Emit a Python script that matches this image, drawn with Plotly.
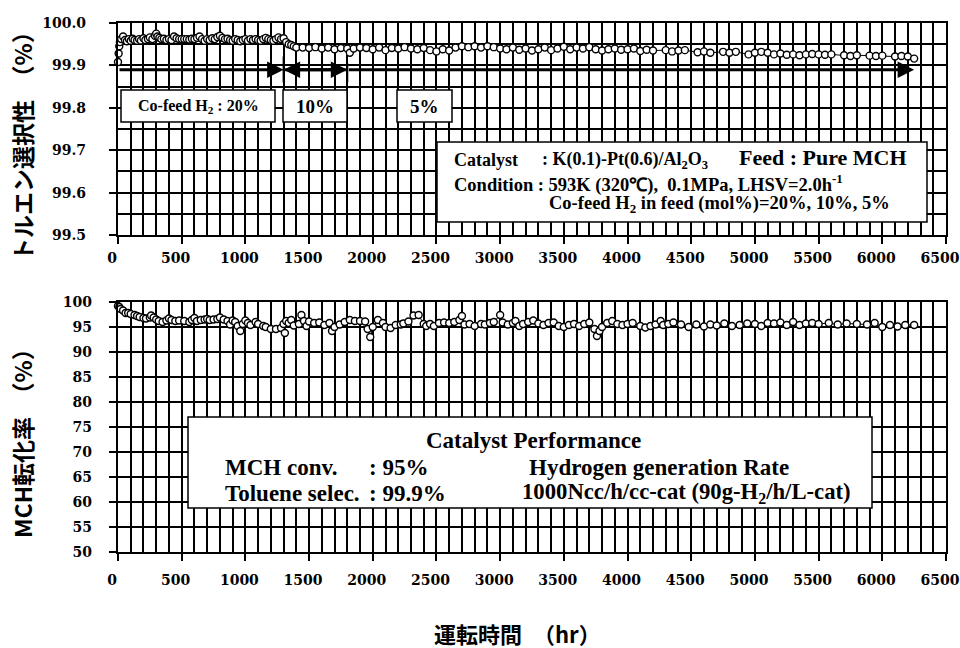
import plotly.graph_objects as go

# ---------------- data ----------------
top_hours = [0, 5, 10, 15, 25, 40, 55, 70, 85, 100, 115, 130, 150, 165, 180, 200, 215, 235, 250, 270,
             290, 300, 310, 325, 340, 360, 380, 400, 420, 440, 460, 480, 500, 520, 540, 560, 580, 600,
             620, 640, 660, 680, 700, 720, 740, 760, 780, 800, 820, 840, 860, 880, 900, 920, 940, 960,
             980, 1000, 1020, 1040, 1060, 1080, 1100, 1120, 1140, 1160, 1180, 1200, 1220, 1240, 1260,
             1280, 1300, 1320, 1340, 1360, 1380, 1400, 1450, 1500, 1550, 1600, 1650, 1700, 1750, 1800,
             1820, 1850, 1900, 1950, 2000, 2050, 2100, 2150, 2200, 2250, 2300, 2350, 2400, 2450, 2500,
             2550, 2600, 2650, 2700, 2750, 2800, 2850, 2900, 2950, 3000, 3050, 3100, 3150, 3200, 3250,
             3300, 3350, 3400, 3450, 3500, 3550, 3600, 3650, 3700, 3750, 3800, 3850, 3900, 3950, 4000,
             4050, 4100, 4150, 4200, 4300, 4350, 4400, 4450, 4550, 4600, 4650, 4750, 4800, 4850, 4950,
             5000, 5050, 5100, 5150, 5200, 5250, 5300, 5350, 5400, 5450, 5500, 5550, 5600, 5700, 5750,
             5800, 5900, 5950, 6000, 6100, 6150, 6200, 6250]
top_selectivity = [99.908, 99.928, 99.945, 99.955, 99.962, 99.968, 99.960, 99.957, 99.962, 99.958,
                   99.963, 99.960, 99.958, 99.962, 99.959, 99.964, 99.960, 99.962, 99.966, 99.962,
                   99.970, 99.975, 99.968, 99.965, 99.962, 99.963, 99.960, 99.962, 99.960, 99.968,
                   99.964, 99.962, 99.962, 99.962, 99.962, 99.961, 99.963, 99.962, 99.965, 99.968,
                   99.962, 99.958, 99.962, 99.960, 99.964, 99.962, 99.967, 99.970, 99.965, 99.962,
                   99.963, 99.960, 99.958, 99.962, 99.960, 99.957, 99.960, 99.962, 99.958, 99.962,
                   99.960, 99.962, 99.960, 99.958, 99.962, 99.965, 99.962, 99.960, 99.958, 99.962,
                   99.966, 99.962, 99.964, 99.955, 99.950, 99.948, 99.945, 99.942, 99.942, 99.941,
                   99.943, 99.940, 99.942, 99.938, 99.941, 99.940, 99.930, 99.940, 99.942, 99.941,
                   99.938, 99.942, 99.936, 99.941, 99.940, 99.943, 99.940, 99.938, 99.941, 99.936,
                   99.933, 99.938, 99.935, 99.942, 99.945, 99.943, 99.945, 99.942, 99.945, 99.943,
                   99.940, 99.938, 99.942, 99.937, 99.940, 99.935, 99.938, 99.942, 99.936, 99.940,
                   99.944, 99.938, 99.942, 99.940, 99.943, 99.938, 99.935, 99.938, 99.940, 99.937,
                   99.938, 99.940, 99.934, 99.937, 99.935, 99.936, 99.933, 99.935, 99.936, 99.931,
                   99.933, 99.930, 99.932, 99.930, 99.932, 99.926, 99.930, 99.932, 99.930, 99.926,
                   99.928, 99.925, 99.926, 99.924, 99.926, 99.927, 99.926, 99.925, 99.926, 99.924,
                   99.922, 99.924, 99.923, 99.922, 99.923, 99.921, 99.922, 99.921, 99.916]

bottom_hours = [0, 10, 20, 40, 60, 80, 100, 130, 150, 170, 200, 220, 250, 260, 280, 300, 320, 350,
                380, 400, 420, 450, 480, 520, 560, 580, 600, 620, 650, 680, 700, 720, 750, 780, 800,
                830, 860, 880, 900, 920, 940, 960, 980, 1000, 1020, 1040, 1080, 1100, 1140, 1160,
                1200, 1240, 1280, 1300, 1310, 1320, 1340, 1360, 1380, 1420, 1440, 1460, 1480, 1500,
                1540, 1580, 1620, 1660, 1680, 1700, 1740, 1780, 1820, 1860, 1900, 1940, 1960, 1980,
                2000, 2040, 2080, 2100, 2140, 2180, 2220, 2240, 2280, 2320, 2360, 2400, 2420, 2450,
                2480, 2520, 2560, 2600, 2640, 2680, 2700, 2720, 2760, 2800, 2850, 2880, 2920, 2950,
                3000, 3020, 3060, 3100, 3120, 3150, 3180, 3220, 3260, 3300, 3340, 3380, 3420, 3460,
                3500, 3540, 3580, 3620, 3660, 3700, 3740, 3760, 3780, 3800, 3840, 3880, 3920, 3960,
                4000, 4040, 4100, 4140, 4180, 4220, 4260, 4280, 4320, 4360, 4420, 4480, 4540, 4600,
                4650, 4700, 4760, 4820, 4880, 4940, 5000, 5050, 5100, 5150, 5200, 5250, 5300, 5350,
                5400, 5450, 5500, 5580, 5650, 5720, 5800, 5880, 5940, 6000, 6060, 6120, 6180, 6250]
bottom_conversion = [99.2, 99.0, 98.6, 98.3, 97.8, 97.8, 97.6, 97.4, 97.2, 97.0, 96.8, 96.7, 96.9,
                     97.3, 96.9, 96.5, 96.2, 96.0, 96.3, 96.7, 96.4, 96.2, 96.3, 96.2, 96.0, 96.4,
                     96.8, 96.2, 96.4, 96.5, 96.6, 96.4, 96.5, 96.6, 96.9, 96.5, 96.2, 95.5, 96.3,
                     96.0, 95.2, 94.2, 95.6, 96.3, 95.8, 95.4, 96.0, 95.6, 95.2, 95.0, 94.6, 94.6,
                     94.8, 95.6, 93.8, 96.2, 95.8, 96.4, 95.3, 95.6, 97.4, 96.2, 95.2, 96.1, 95.8,
                     95.9, 95.4, 95.8, 94.2, 95.0, 95.5, 96.0, 96.4, 96.2, 96.2, 96.1, 94.6, 93.0,
                     95.0, 96.4, 95.8, 95.0, 94.8, 95.4, 95.5, 95.7, 96.1, 97.3, 97.4, 95.6, 95.2,
                     95.6, 95.2, 95.8, 95.9, 95.8, 96.0, 96.4, 97.2, 95.5, 95.6, 95.2, 95.6, 95.5,
                     95.8, 96.0, 97.4, 95.9, 95.5, 95.8, 96.2, 95.2, 95.6, 96.0, 96.3, 95.7, 95.4,
                     95.8, 95.9, 95.2, 95.0, 95.4, 95.6, 95.2, 95.6, 95.9, 94.6, 93.2, 94.2, 95.0,
                     95.8, 96.2, 95.6, 95.4, 95.6, 95.8, 95.2, 94.9, 95.2, 95.5, 96.2, 95.4, 95.6,
                     95.9, 95.5, 95.0, 95.5, 95.1, 95.5, 95.3, 95.7, 95.2, 95.4, 95.7, 95.6, 95.2,
                     95.8, 95.7, 95.9, 95.4, 96.0, 95.4, 95.7, 95.8, 95.6, 95.8, 95.5, 95.7, 95.6,
                     95.5, 95.8, 95.0, 95.4, 95.1, 95.4, 95.4]

x_ticks = [0, 500, 1000, 1500, 2000, 2500, 3000, 3500, 4000, 4500, 5000, 5500, 6000, 6500]
top_y_ticks = [99.5, 99.6, 99.7, 99.8, 99.9, 100.0]
bottom_y_ticks = [50, 55, 60, 65, 70, 75, 80, 85, 90, 95, 100]

phase_changes = [1300, 1800]   # hours where co-feed H2 changes
run_end = 6250

# ---------------- layout helpers ----------------
W, H = 960, 648


def PX(x):
    return x / W


def PY(y):
    return 1 - y / H


X0, X1 = 118, 946
TOP_Y0, TOP_Y1 = 23, 235
BOT_Y0, BOT_Y1 = 302, 552

TICKFONT = dict(family="DejaVu Serif", size=14, color="black", weight="bold")
SERIF = "Liberation Serif"
CJK = "Noto Sans CJK JP"

marker = dict(symbol="circle", size=7, color="white", line=dict(color="black", width=1.4))

fig = go.Figure()
fig.add_trace(go.Scatter(x=top_hours, y=top_selectivity, mode="lines+markers",
                         line=dict(color="black", width=1), marker=marker,
                         xaxis="x", yaxis="y", showlegend=False, cliponaxis=False))
fig.add_trace(go.Scatter(x=bottom_hours, y=bottom_conversion, mode="lines+markers",
                         line=dict(color="black", width=1), marker=marker,
                         xaxis="x2", yaxis="y2", showlegend=False, cliponaxis=False))

grid = dict(showgrid=True, gridcolor="black", gridwidth=1.6, zeroline=False,
            showline=True, linecolor="black", linewidth=2.2, mirror=True,
            ticks="outside", ticklen=7, tickwidth=2, tickcolor="black",
            tickfont=TICKFONT, ticklabeloverflow="allow")

xcommon = dict(grid, range=[0, 6500], tickmode="array", tickvals=x_ticks,
               ticktext=[str(v) for v in x_ticks], ticklabelshift=-6,
               minor=dict(dtick=100, tick0=0, showgrid=True, gridcolor="black", gridwidth=1.6,
                          ticks=""),
               domain=[PX(X0), PX(X1)])

fig.update_layout(
    width=W, height=H,
    margin=dict(l=0, r=0, t=0, b=0, autoexpand=False),
    paper_bgcolor="white", plot_bgcolor="white",
    showlegend=False,
    xaxis=dict(xcommon, anchor="y", ticklabelstandoff=2),
    yaxis=dict(grid, range=[99.5, 100.0], tickmode="array", tickvals=top_y_ticks,
               ticktext=["%.1f" % v for v in top_y_ticks],
               minor=dict(dtick=0.05, tick0=99.5, showgrid=True, gridcolor="black",
                          gridwidth=1.6, ticks=""),
               domain=[PY(TOP_Y1), PY(TOP_Y0)], anchor="x", ticklabelstandoff=20),
    xaxis2=dict(xcommon, anchor="y2", ticklabelstandoff=7),
    yaxis2=dict(grid, range=[50, 100], tickmode="array", tickvals=bottom_y_ticks,
                ticktext=[str(v) for v in bottom_y_ticks],
                domain=[PY(BOT_Y1), PY(BOT_Y0)], anchor="x2", ticklabelstandoff=14),
)

shapes = []
ann = []


def box(x0, y0, x1, y1):
    shapes.append(dict(type="rect", xref="paper", yref="paper",
                       x0=PX(x0), x1=PX(x1), y0=PY(y1), y1=PY(y0),
                       fillcolor="white", line=dict(color="black", width=1.5), layer="above"))


def text(t, x, y, size, xanchor="left", family=SERIF, bold=True):
    ann.append(dict(text=t, x=PX(x), y=PY(y), xref="paper", yref="paper",
                    xanchor=xanchor, yanchor="middle", showarrow=False,
                    font=dict(family=family, size=size, color="black",
                              weight="bold" if bold else "normal")))


# ---- top plot annotations ----
box(121, 90, 275, 122)
text("Co-feed H<sub>2</sub> : 20%", 198, 107, 16, "center")
box(283, 90, 347, 122)
text("10%", 315, 107, 19, "center")
box(397, 90, 452, 122)
text("5%", 424, 107, 19, "center")

box(437, 142, 927, 222)
text("Catalyst", 452, 160, 18)
text(": K(0.1)-Pt(0.6)/Al<sub>2</sub>O<sub>3</sub>", 540, 160, 18)
text("Feed : Pure MCH", 737, 158, 22)
text("Condition : 593K (320℃),  0.1MPa, LHSV=2.0h<sup>-1</sup>", 452, 183, 18.5)
text("Co-feed H<sub>2</sub> in feed (mol%)=20%, 10%, 5%", 547, 204, 18.5)

# arrow line (data coordinates)
ARROW_Y = 99.89
seg = [(0, phase_changes[0]), (phase_changes[1], phase_changes[0]),
       (phase_changes[0], phase_changes[1]), (phase_changes[1], run_end)]
for tail, head in seg:
    ann.append(dict(x=head, y=ARROW_Y, ax=tail, ay=ARROW_Y, xref="x", yref="y",
                    axref="x", ayref="y", text="", showarrow=True, arrowhead=2,
                    arrowsize=1.1, arrowwidth=3, arrowcolor="black", standoff=0,
                    startstandoff=0))
shapes.append(dict(type="line", xref="x", yref="y", x0=phase_changes[0], x1=phase_changes[0],
                   y0=99.860, y1=99.921, line=dict(color="black", width=2)))
shapes.append(dict(type="line", xref="x", yref="y", x0=phase_changes[1], x1=phase_changes[1],
                   y0=99.860, y1=99.905, line=dict(color="black", width=2)))

# ---- bottom plot annotations ----
box(188, 417, 872, 508)
text("Catalyst Performance", 533, 440, 23, "center")
text("MCH conv.", 223, 467, 23)
text(": 95%", 367, 467, 23)
text("Toluene selec.", 223, 493, 23)
text(": 99.9%", 367, 493, 23)
text("Hydrogen generation Rate", 527, 467, 23)
text("1000Ncc/h/cc-cat (90g-H<sub>2</sub>/h/L-cat)", 520, 493, 22.7)

# ---- axis titles ----
ann.append(dict(text="トルエン選択性　（%）", x=PX(22), y=PY(141), xref="paper", yref="paper",
                textangle=-90, showarrow=False, xanchor="center", yanchor="middle",
                font=dict(family=CJK, size=23, color="black", weight="bold")))
ann.append(dict(text="MCH転化率　（%）", x=PX(22), y=PY(438), xref="paper", yref="paper",
                textangle=-90, showarrow=False, xanchor="center", yanchor="middle",
                font=dict(family=CJK, size=23, color="black", weight="bold")))
ann.append(dict(text="運転時間　（hr）", x=PX(517), y=PY(633), xref="paper", yref="paper",
                showarrow=False, xanchor="center", yanchor="middle",
                font=dict(family=CJK, size=22, color="black", weight="bold")))

fig.update_layout(shapes=shapes, annotations=ann)
fig.write_html("out.html", config={"displayModeBar": False},
               post_script="document.body.style.margin='0';document.body.style.padding='0';"
                           "document.body.style.overflow='hidden';")
